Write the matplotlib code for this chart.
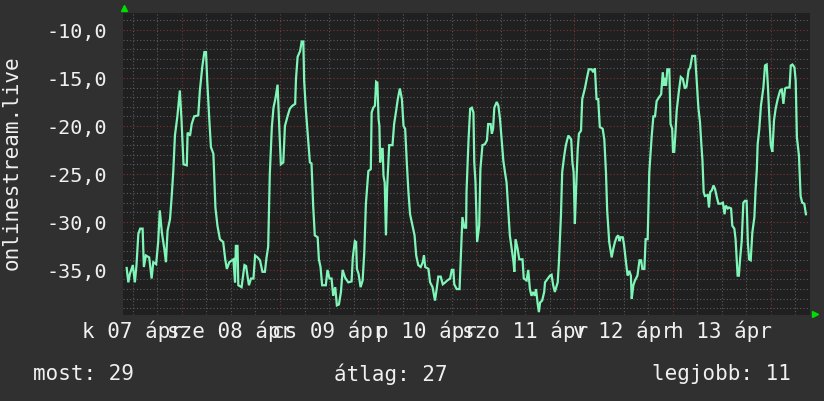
import numpy as np
import matplotlib
matplotlib.use("Agg")
import matplotlib.pyplot as plt
from matplotlib.lines import Line2D

# ---- data (hours from start of window, value) ----
hours = [
    0.9, 1.3, 1.7, 2.4, 2.9, 3.3, 3.75, 4.2, 4.8, 5.1, 5.6, 6.4, 7.0, 7.4, 8.1, 8.6, 9.0, 9.5,
    10.1, 10.5, 10.9, 11.5, 11.9, 12.3, 12.7, 13.3, 13.9, 14.3, 14.8, 15.6, 15.8, 16.4, 16.8,
    17.4, 18.4, 18.8, 19.4, 19.9, 20.3, 20.6, 21.1, 21.5, 22.1, 22.6, 23.1, 23.7, 24.5, 25.0,
    25.4, 26.0, 27.0, 27.4,
    27.6, 28.0, 28.2, 29.0, 29.7, 30.1, 30.5, 30.8, 31.3, 31.9, 32.3, 32.9, 33.5, 34.1, 34.7,
    35.1, 35.5, 35.9, 36.4, 36.8, 37.3, 37.8, 38.2, 38.6, 39.2, 39.6, 40.3, 40.8, 41.4, 42.1,
    42.3, 42.7, 43.3, 43.7, 44.1, 44.3, 44.7, 45.3, 45.7, 46.1, 46.5, 46.9, 47.6, 47.9, 48.3,
    48.7, 49.6, 50.0, 50.5, 51.0, 51.4, 51.9, 52.3, 52.8, 53.3, 53.7, 54.3, 55.1, 55.9,
    56.2, 56.7, 57.0, 57.2, 57.6, 58.1, 58.6, 59.0, 59.4, 60.0, 60.6, 60.8, 61.2, 61.6, 61.9,
    62.2, 62.5, 62.7, 62.9, 63.1, 63.5, 63.7, 64.0, 64.3, 64.6, 65.1, 65.9, 66.3, 66.8, 67.2,
    67.7, 68.2, 68.6, 69.0, 69.4, 69.8, 70.2, 70.7, 71.3, 71.7, 72.2, 72.8, 73.3, 73.6, 73.9,
    74.7, 75.1, 75.7, 76.3, 76.7, 77.1, 77.7, 78.2, 78.8, 79.3, 80.0, 80.4, 80.8, 81.0, 81.6,
    82.3, 82.6, 83.0, 83.5, 83.9,
    84.0, 84.5, 84.9, 85.3, 85.7, 85.9, 86.2, 86.6, 87.1, 87.4, 87.9, 88.5, 89.0, 89.3, 89.9,
    90.2, 90.5, 90.8, 91.4, 91.8, 92.2, 92.6, 93.0, 93.4, 93.8, 94.2, 94.6, 95.1, 95.5, 95.7,
    96.0, 96.5, 96.9, 97.7, 98.0, 98.7, 99.1, 99.5, 99.9, 100.3, 100.7, 101.0, 101.4, 101.7,
    102.0, 102.5, 103.0, 103.2, 103.9, 104.4, 104.8, 105.2, 105.6, 106.3, 106.6, 107.1, 107.4,
    107.9, 108.3, 108.9, 109.6, 109.9, 110.2, 110.5, 110.8, 111.2, 111.5, 112.0, 112.3,
    113.0, 113.4, 113.9, 114.6, 115.0, 115.4, 115.8, 116.2, 116.6, 117.3, 117.7, 118.1, 118.4,
    118.9, 119.5, 119.9, 120.3, 120.7, 121.1, 121.4, 121.7, 122.2, 122.5, 123.0, 123.4, 123.8,
    124.2, 124.4, 124.8, 125.2, 125.8, 126.3, 126.7, 127.0, 127.5, 127.8, 128.3, 128.7, 129.3,
    129.7, 130.1, 130.5, 131.1, 131.6, 132.0, 132.3, 132.5, 132.8, 133.1, 133.6, 133.9, 134.3,
    134.5, 134.8, 135.1, 135.4, 135.9, 136.4, 136.9, 137.4, 137.8, 138.3, 138.7, 139.2, 139.9,
    140.3, 140.7, 141.1, 141.4, 141.7, 142.0, 142.3, 143.0, 143.3, 143.6, 144.0, 144.4, 144.8,
    145.2, 145.6, 146.2, 146.7, 147.1, 147.4, 147.9, 148.2, 148.7, 149.0, 149.5, 149.8, 150.3,
    150.6, 150.9, 151.3, 151.7, 152.1, 152.5, 152.8, 153.1, 153.5, 153.9, 154.4, 154.7, 155.0,
    155.2, 155.6, 156.0, 156.6, 157.0, 157.4, 157.7, 158.0, 158.4, 158.8, 159.2, 159.6, 160.1,
    160.7, 161.1, 161.5, 161.9, 162.3, 163.0, 163.3, 163.7, 164.2, 164.5, 164.8, 165.3, 165.7,
    166.1, 166.6, 167.0,
]
values = [
    -34.8, -36.3, -35.4, -34.5, -36.3, -34.5, -31.25, -30.7, -30.7, -34.7, -33.5, -33.7, -35.9,
    -34.2, -34.4, -32.1, -28.8, -31.1, -32.8, -34.2, -30.9, -29.7, -27.4, -24.7, -21.0, -19.0,
    -16.3, -19.3, -24.0, -24.1, -20.7, -21.0, -19.8, -19.0, -18.9, -16.3, -13.8, -12.3, -12.3,
    -15.3, -19.3, -22.2, -22.9, -28.5, -30.4, -31.8, -32.1, -33.9, -34.9, -34.2, -33.9, -36.3,
    -32.5, -32.5, -36.6, -36.8, -34.5, -34.6, -35.8, -36.6, -35.9, -35.9, -33.5, -33.7, -34.0,
    -35.2, -35.2, -33.7, -32.6, -25.0, -20.1, -18.1, -17.1, -15.7, -20.0, -24.0, -23.8, -20.0,
    -18.9, -18.2, -17.9, -17.7, -15.1, -12.8, -12.2, -11.2, -11.2, -15.3, -18.2, -21.5, -23.8,
    -23.9, -28.3, -31.4, -31.6, -33.9, -34.7, -36.6, -36.6, -35.0, -35.9, -35.9, -37.7, -36.8,
    -38.7, -38.6, -37.3, -35.0, -35.8, -36.3, -36.2,
    -33.7, -32.0, -32.1, -34.9, -35.4, -36.8, -36.1, -33.2, -28.1, -24.7, -24.5, -18.6, -18.1,
    -17.9, -15.4, -15.5, -19.3, -20.0, -23.8, -22.4, -22.4, -25.2, -25.9, -31.4, -26.4, -22.0,
    -22.0, -19.8, -18.4, -17.2, -16.1, -17.2, -20.0, -20.3, -23.8, -26.9, -29.2, -30.2, -31.4,
    -33.5, -34.5, -34.7, -34.2, -33.5, -34.7, -34.9, -36.3, -36.8, -38.2, -37.0, -35.7, -35.7,
    -36.5, -36.3, -36.1, -35.9, -35.0, -35.0, -36.5, -37.0, -37.0, -33.9, -29.5, -30.6, -30.6,
    -26.9, -21.4, -18.2, -18.1, -18.6, -23.8, -25.9, -32.1, -30.4, -24.5, -22.0, -21.9, -21.5,
    -19.8, -19.8, -20.8, -20.3, -18.1, -17.5, -17.9, -19.3, -21.5, -23.6, -24.8, -25.9, -28.6,
    -31.4, -33.0, -34.2, -35.2, -31.8, -32.8, -33.9, -33.9, -35.9, -36.1, -35.0, -37.0, -37.7,
    -37.3, -37.7, -37.0, -38.5, -39.4, -38.4, -38.2, -37.3, -36.3, -35.9, -35.6, -35.5, -36.6,
    -37.3, -36.3, -34.2, -29.3, -24.8, -23.1, -22.0, -21.0, -21.4, -23.8, -24.8, -30.2, -26.6,
    -22.4, -20.8, -20.5, -17.2,
    -16.0, -15.1, -14.1, -14.1, -14.4, -14.0, -17.2, -17.2, -20.1, -20.3, -21.4, -24.8, -28.8,
    -32.1, -33.7, -32.8, -32.1, -31.6, -31.4, -32.0, -31.6, -31.6, -32.3, -34.2, -35.6, -35.1,
    -35.6, -38.0, -36.6, -36.1, -35.6, -34.0, -34.0, -34.9, -34.9, -31.8, -31.8, -24.8, -21.0,
    -19.0, -19.0, -17.4, -17.0, -16.7, -14.4, -15.8, -15.0, -15.8, -14.1, -14.1, -19.8, -20.3,
    -22.7, -22.7, -20.7, -18.4, -16.5, -14.9, -15.1, -16.1, -15.9, -14.2, -13.9, -12.7, -12.7,
    -15.3, -18.1, -19.6, -21.7, -23.6, -26.9, -27.3, -27.2, -28.5, -26.9, -26.7, -26.2, -26.6,
    -27.4, -28.1, -28.1, -28.0, -29.2, -28.3, -28.6, -28.5, -28.6, -30.4, -30.7, -31.8, -35.6,
    -35.6, -33.9, -32.0, -28.0, -27.8, -27.8, -32.1, -33.9, -34.0, -31.1, -29.5, -26.6, -24.5,
    -21.9, -20.3, -17.9, -16.0, -13.7, -13.6, -15.8, -18.6, -22.0, -22.7, -19.4, -18.2, -17.2,
    -16.3, -16.2, -17.7, -16.1, -16.0, -16.0, -13.7, -13.6, -13.9, -15.3, -21.2, -23.1, -27.3,
    -28.0, -28.1, -29.2,
]

day_labels = ["k 07 ápr", "sze 08 ápr", "cs 09 ápr", "p 10 ápr",
              "szo 11 ápr", "v 12 ápr", "h 13 ápr"]
y_ticks = [-35, -30, -25, -20, -15, -10]
y_axis_label = "onlinestream.live"
footer = ["most: 29", "átlag: 27", "legjobb: 11"]

# ---- styling ----
FIG_BG = "#303030"
AX_BG = "#202020"
TXT = "#f0f0f0"
LINE = "#7ff5b8"
MINOR = "#5a5a5a"
MAJOR = "#7a3434"
FONT = "DejaVu Sans Mono"

fig = plt.figure(figsize=(8.24, 4.02), dpi=100, facecolor=FIG_BG)
ax = fig.add_axes([123 / 824, 86 / 402, 687 / 824, 302 / 402])
ax.set_facecolor(AX_BG)

x0, x1 = 0.0, 168.0
ax.set_xlim(x0, x1)
ax.set_ylim(-39.7, -8.23)

# grid
dot = (0, (1, 2))
for v in range(-39, -8):
    ax.axhline(v, color=MAJOR if v % 5 == 0 else MINOR, lw=0.8, ls=dot, zorder=1)
first_major = 14.4
t = first_major - 12
while t < x1:
    is_major = abs(((t - first_major) / 24) - round((t - first_major) / 24)) < 1e-6
    ax.axvline(t, color=MAJOR if is_major else MINOR, lw=0.8, ls=dot, zorder=1)
    t += 6

ax.plot(hours, values, color=LINE, lw=1.6, zorder=3, solid_joinstyle="miter")

for s in ax.spines.values():
    s.set_visible(False)

ax.set_yticks(y_ticks)
ax.set_yticklabels([f"{v:.1f}".replace(".", ",") for v in y_ticks],
                   fontfamily=FONT, fontsize=14.5, color=TXT)
ax.tick_params(axis="y", length=0, pad=11.5)

ax.set_xticks([])
for i, lab in enumerate(day_labels):
    ax.text(2.3 + 24 * i, -0.05, lab, transform=ax.get_xaxis_transform(),
            ha="center", va="center", fontfamily=FONT, fontsize=15, color=TXT)

fig.text(12 / 824, 1 - 163 / 402, y_axis_label, rotation=90, ha="center", va="center",
         fontfamily=FONT, fontsize=15, color=TXT)

fig.text(33 / 824, 1 - 374 / 402, footer[0], ha="left", va="center",
         fontfamily=FONT, fontsize=15, color=TXT)
fig.text(334 / 824, 1 - 374 / 402, footer[1], ha="left", va="center",
         fontfamily=FONT, fontsize=15, color=TXT)
fig.text(791 / 824, 1 - 374 / 402, footer[2], ha="right", va="center",
         fontfamily=FONT, fontsize=15, color=TXT)

# rrd-style axis arrows
fig.add_artist(Line2D([124 / 824], [1 - 9 / 402], marker="^", markersize=4,
                      color="#00dd00", transform=fig.transFigure))
fig.add_artist(Line2D([815 / 824], [1 - 315 / 402], marker=">", markersize=4,
                      color="#00dd00", transform=fig.transFigure))

fig.savefig("out.png", dpi=100, facecolor=FIG_BG)
